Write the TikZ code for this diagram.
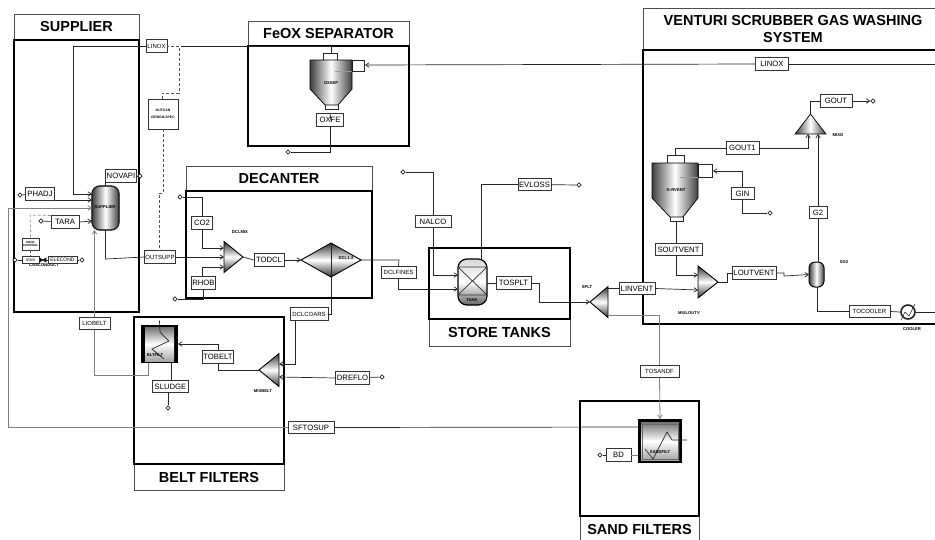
\documentclass[tikz,border=0pt]{standalone}
\usepackage{fontspec}
\setmainfont{Liberation Sans}
\usetikzlibrary{arrows.meta, positioning, shapes.geometric}

\begin{document}
\begin{tikzpicture}[x=1pt, y=-1pt, >={Straight Barb[length=3.5pt,width=4.5pt]}, line width=0.7pt, black!85,
    frame/.style={draw=black, line width=2.2pt},
    titlebox/.style={draw=black!70, line width=0.8pt, fill=white, text=black, font=\bfseries\fontsize{14.5}{17}\selectfont, align=center, inner sep=0pt},
    lbl/.style={draw=black!80, line width=0.8pt, fill=white, text=black, inner xsep=1pt, inner ysep=0pt, minimum height=12.5pt, font=\fontsize{7.7}{8}\selectfont},
    lblsm/.style={lbl, font=\fontsize{6}{7}\selectfont},
    term/.style={draw, fill=white, diamond, inner sep=0pt, minimum size=4.5pt},
    tag/.style={font=\bfseries\fontsize{4.2}{5}\selectfont, inner sep=0pt, text=black},
    unit/.style={inner sep=0pt, outer sep=0pt},
    paleflow/.style={draw=black!50, line width=0.8pt},
    signal/.style={draw=black!65, densely dashed, line width=0.5pt},
    metal/.style={draw=black, line width=0.7pt, left color=black!75, right color=black!75, middle color=white},
    metalv/.style={draw=black, line width=0.9pt, top color=black!80, bottom color=black!80, middle color=white},
    tankfill/.style={draw=black, line width=1.2pt, top color=black!15, bottom color=black!60, middle color=white},
    filterfill/.style={top color=black!55, bottom color=black!35, middle color=white}]
  \useasboundingbox (0,0) rectangle (935,539);

  % ---- section frames ----
  \node[titlebox, minimum width=125, minimum height=26] (supt) at (76.5,27) {SUPPLIER};
  \node[frame, minimum width=125, minimum height=272] (supf) at (76.5,176) {};
  \node[titlebox, minimum width=161, minimum height=25] (oxt) at (328.5,33.5) {FeOX SEPARATOR};
  \node[frame, minimum width=161, minimum height=100] (oxf) at (328.5,96) {};
  \node[titlebox, minimum width=186, minimum height=25] (dect) at (279,178.5) {DECANTER};
  \node[frame, minimum width=186, minimum height=107] (decf) at (279,244.5) {};
  \node[titlebox, minimum width=141, minimum height=27] (stot) at (499.5,332.5) {STORE TANKS};
  \node[frame, minimum width=141, minimum height=71] (stof) at (499.5,283.5) {};
  \node[titlebox, minimum width=150, minimum height=26] (belt) at (209,477) {BELT FILTERS};
  \node[frame, minimum width=150, minimum height=147] (belf) at (209,390.5) {};
  \node[titlebox, minimum width=119, minimum height=32] (sant) at (639.5,532) {};
  \node[inner sep=0pt, font=\bfseries\fontsize{14.5}{17}\selectfont, text=black] (santext) at (639.5,529) {SAND FILTERS};
  \node[frame, minimum width=119, minimum height=115] (sanf) at (639.5,458.5) {};
  \node[titlebox, minimum width=300, minimum height=42] (vent) at (793,29) {VENTURI SCRUBBER GAS WASHING\\SYSTEM};
  \node[frame, minimum width=300, minimum height=274] (venf) at (793,187) {};

  % ---- unit blocks (outline only, shapes drawn below) ----
  \node[unit, minimum width=27, minimum height=44] (supplier) at (105.5,208) {};
  \node[unit, minimum width=42, minimum height=68] (oxsep) at (331,87) {};
  \node[unit, minimum width=19, minimum height=31] (dclmix) at (233.5,257) {};
  \node[unit, minimum width=60, minimum height=34] (dcl) at (331,260) {};
  \node[unit, minimum width=29, minimum height=46] (tank) at (472.5,282) {};
  \node[unit, minimum width=18, minimum height=31] (splt) at (599,302) {};
  \node[unit, minimum width=37, minimum height=38] (bltfilt) at (159.5,344) {};
  \node[unit, minimum width=20, minimum height=33] (mixbelt) at (269,370) {};
  \node[unit, minimum width=44, minimum height=44] (sandfilt) at (660,441) {};
  \node[unit, minimum width=46, minimum height=58] (grvent) at (675,192) {};
  \node[unit, minimum width=31, minimum height=20] (mixg) at (810.5,124) {};
  \node[unit, minimum width=20, minimum height=32] (mixoutv) at (708,282) {};
  \node[unit, minimum width=15, minimum height=25] (sg2) at (816.5,274.5) {};
  \node[unit, circle, minimum size=16] (cooler) at (908,312) {};

  % ---- unit shapes ----
  \shade[metal, rounded corners=8pt] (supplier.north west) rectangle (supplier.south east);
  \draw[line width=1.4pt, rounded corners=8pt] (supplier.north west) rectangle (supplier.south east);
  \shadedraw[metalv] (dclmix.north west) -- (dclmix.east) -- (dclmix.south west) -- cycle;
  \shadedraw[metalv] (dcl.west) -- (dcl.north) -- (dcl.east) -- (dcl.south) -- cycle;
  \draw (dcl.north) -- (dcl.south);
  \shadedraw[metalv] (splt.north east) -- (splt.west) -- (splt.south east) -- cycle;
  \shadedraw[metalv] (mixbelt.north east) -- (mixbelt.west) -- (mixbelt.south east) -- cycle;
  \shadedraw[metalv] (mixoutv.north west) -- (mixoutv.east) -- (mixoutv.south west) -- cycle;
  \shadedraw[metal] (mixg.north) -- (mixg.south east) -- (mixg.south west) -- cycle;
  % ---- cyclones ----
  \draw[fill=white, line width=1pt] (323,53) rectangle (337,60) (352,60) rectangle (364,71);
  \shadedraw[metal] (310,60) -- (352,60) -- (352,89) -- (338,105) -- (325,105) -- (310,89) -- cycle;
  \draw[line width=1pt] (325,105) -- (325,109) -- (338,109) -- (338,105);
  \draw[line width=0.5pt, black!40] (335,71) -- (352,71);
  \draw[fill=white, line width=1pt] (667,155) rectangle (684,163) (698,164) rectangle (712,177);
  \shadedraw[metal] (652,163) -- (698,163) -- (698,198) -- (683,217) -- (670,217) -- (652,198) -- cycle;
  \draw[line width=1pt] (670,217) -- (670,221) -- (683,221) -- (683,217);
  \draw[line width=0.5pt, black!40] (680,177) -- (698,177);
  % ---- tank, flash drum, cooler ----
  \shadedraw[tankfill, rounded corners=9pt] (tank.north west) rectangle (tank.south east);
  \draw[black!80] (458,267) -- (487,295) (487,267) -- (458,295) (458,267) -- (487,267) (458,295) -- (487,295);
  \shadedraw[metal, rounded corners=6pt, line width=1pt] (sg2.north west) rectangle (sg2.south east);
  \draw[line width=1.6pt, fill=white] (cooler) circle (7);
  \draw[line width=0.5pt] (901,320) -- (905,312) -- (909,316) -- (915,304);
  % ---- filters ----
  \fill[black] (bltfilt.north west) rectangle (bltfilt.south east);
  \shade[filterfill] (145,327) rectangle (174,361);
  \draw[line width=0.7pt] (160,332) -- (169,341) -- (152,349) -- (164,359);
  \fill[black] (sandfilt.north west) rectangle (sandfilt.south east);
  \shade[filterfill] (641,422) rectangle (679,460);
  \draw[black!60] (642,424) rectangle (678,459);
  \draw[line width=0.7pt] (645,449) -- (653,459) -- (667,432) -- (672,440) -- (687,440);

  % ---- equipment tags ----
  \node[tag] (supplierlab) at (105,207) {SUPPLIER};
  \node[tag] (oxseplab) at (331,83) {OXSEP};
  \node[tag] (dclmixlab) at (240,232) {DCLMIX};
  \node[tag] (dcllab) at (346,258) {DCL1-2};
  \node[tag] (tanklab) at (472,300) {TANK};
  \node[tag] (spltlab) at (587,287) {SPLT};
  \node[tag] (bltfiltlab) at (155,355) {BLTFILT};
  \node[tag] (mixbeltlab) at (263,391) {MIXBELT};
  \node[tag] (sandfiltlab) at (660,452) {SANDFILT};
  \node[tag] (grventlab) at (676,190) {G-RVENT};
  \node[tag] (mixglab) at (838,135) {MIXG};
  \node[tag] (mixoutvlab) at (689,313) {MIXLOUTV};
  \node[tag] (sg2lab) at (844,262) {SG2};
  \node[tag] (coolerlab) at (912,329) {COOLER};
  \node[tag] (casconlab) at (44,265.5) {CASCONDUCT};

  % ---- free stream ends ----
  \node[term] (tphadj) at (20,195) {};
  \node[term] (ttara) at (41,221) {};
  \node[term] (tions) at (15,260) {};
  \node[term] (telec) at (82,260) {};
  \node[term] (tnova) at (140,176) {};
  \node[term] (tco2) at (180,197) {};
  \node[term] (trhob) at (175,299) {};
  \node[term] (toxfe) at (288,152) {};
  \node[term] (tnalco) at (403,172) {};
  \node[term] (tevloss) at (579,185) {};
  \node[term] (tdreflo) at (382,377) {};
  \node[term] (tsludge) at (168,408) {};
  \node[term] (tbd) at (600,455) {};
  \node[term] (tgin) at (770,213) {};
  \node[term] (tgout) at (873,101) {};
  \coordinate (rimlinox) at (935,64);
  \coordinate (rimcool) at (935,312);
  \coordinate (sepin) at (365,65);
  \coordinate (ginin) at (713,171);

  % ---- stream labels ----
  \node[lblsm, minimum width=21] (linoxa) at (156.5,46) {LINOX};
  \node[lbl, minimum width=33] (linoxb) at (772,64) {LINOX};
  \node[lbl, minimum width=30] (novapi) at (121,176) {NOVAPI};
  \node[lbl, minimum width=29] (phadj) at (40,194) {PHADJ};
  \node[lbl, minimum width=28] (tara) at (65,222) {TARA};
  \node[lblsm, minimum width=29] (outsupp) at (160,257) {OUTSUPP};
  \node[lblsm, minimum width=31, minimum height=12] (liobelt) at (94.5,323.5) {LIOBELT};
  \node[lbl, minimum width=21] (co2) at (202,223) {CO2};
  \node[lbl, minimum width=23] (rhob) at (203.5,283) {RHOB};
  \node[lbl, minimum width=30] (todcl) at (269,260) {TODCL};
  \node[lbl, minimum width=27] (oxfe) at (330,120) {OXFE};
  \node[lblsm, minimum width=35] (dclfines) at (398.5,272.5) {DCLFINES};
  \node[lblsm, minimum width=38] (dclcoars) at (309,314) {DCLCOARS};
  \node[lbl, minimum width=36] (nalco) at (433,221.5) {NALCO};
  \node[lbl, minimum width=33] (evloss) at (534.5,184.5) {EVLOSS};
  \node[lbl, minimum width=35] (tosplt) at (513.5,283) {TOSPLT};
  \node[lbl, minimum width=36] (linvent) at (637,288.5) {LINVENT};
  \node[lblsm, minimum width=39] (tosandf) at (659.5,371.5) {TOSANDF};
  \node[lbl, minimum width=28] (tobelt) at (218,357) {TOBELT};
  \node[lbl, minimum width=36] (sludge) at (170.5,386.5) {SLUDGE};
  \node[lbl, minimum width=33] (dreflo) at (352.5,378) {DREFLO};
  \node[lbl, minimum width=46] (sftosup) at (311,427.5) {SFTOSUP};
  \node[lbl, minimum width=25] (bd) at (618.5,455) {BD};
  \node[lbl, minimum width=33] (gout1) at (742.5,148) {GOUT1};
  \node[lbl, minimum width=32] (gout) at (836,101) {GOUT};
  \node[lbl, minimum width=23] (gin) at (742.5,193.5) {GIN};
  \node[lbl, minimum width=18] (gtwo) at (818,212.5) {G2};
  \node[lbl, minimum width=47] (soutvent) at (678.5,249.5) {SOUTVENT};
  \node[lbl, minimum width=44] (loutvent) at (754,273) {LOUTVENT};
  \node[lblsm, minimum width=41] (tocooler) at (869.5,311.5) {TOCOOLER};
  % ---- small control blocks ----
  \node[lbl, minimum width=13, minimum height=12, font=\bfseries\fontsize{3}{3.6}\selectfont, align=center] (conc) at (30.5,244) {CONC\\CONTROL};
  \node[lbl, minimum width=17, minimum height=7.5, font=\fontsize{3.8}{4}\selectfont] (ions) at (30.5,260) {IONS};
  \node[lbl, minimum width=29, minimum height=7.5, font=\fontsize{5}{5}\selectfont] (elecond) at (62.5,260) {ELECOND};
  \node[lbl, minimum width=30, minimum height=30, font=\bfseries\fontsize{3.4}{6.5}\selectfont, align=center] (outcan) at (163,114) {OUTCAN\\DESIGN-SPEC};

  % ---- streams: supplier ----
  \draw[->] (linoxa.west) -| (73,194) -- ([yshift=14pt]supplier.west);
  \draw (linoxa.east) ++(14,0) -- (oxsep.north |- linoxa.east) -- (331,53);
  \draw[->] (phadj.east) ++(0,6) -- ([yshift=8pt]supplier.west);
  \draw[->] (tara.east) -- ([yshift=-13pt]supplier.west);
  \draw (ttara) -- (tara);
  \draw (tphadj) -- (phadj);
  \draw (supplier.north) -- (supplier.north |- novapi.south);
  \draw (novapi) -- (tnova);
  \draw (supplier.south) -- ++(0,29) -- (outsupp.west);
  \draw[paleflow, ->] (sftosup.west) -- (8,427.5) -- (8,208) -- (supplier.west);
  \draw[paleflow] ([xshift=7pt]bltfilt.south west) |- (94.5,375) -- (liobelt.south);
  \draw[paleflow, ->] (liobelt.north) -- (94.5,230);
  \draw[signal] (tara.north west) -- (30,215) -- (conc.north);
  \draw[signal] (conc.south) -- (ions.north);
  \draw (tions) -- (ions);
  \draw (elecond) -- (telec);
  \draw (ions) -- (elecond);
  \draw[fill=black] (39.5,258) -- (46,262) -- (46,258) -- (39.5,262) -- cycle;
  \draw[signal] ([xshift=-1pt]outcan.north) |- (179,93) |- (linoxa.east);
  \draw[signal] (outcan.south) -- (163,193) -- (159,193) -- (159,251);

  % ---- streams: decanter ----
  \draw (tco2) -| (co2.north);
  \draw[->] (co2.south) |- ([yshift=9pt]dclmix.west);
  \draw[->] (outsupp.east) -- (dclmix.west);
  \draw[->] ([xshift=-1pt]rhob.north) |- ([yshift=-10pt]dclmix.west);
  \draw (trhob) -| (rhob.south);
  \draw (dclmix.east) -- (todcl.west);
  \draw[->] (todcl.east) -- (dcl.west);
  \draw (dcl.east) -- (399,260) -- (dclfines.north);
  \draw[->] (dclfines.south) |- ([yshift=-7pt]tank.west);
  \draw (dcl.south) -- (331,314) -- (dclcoars.east);
  \draw[->] ([xshift=-14pt]dclcoars.south) |- ([yshift=6pt]mixbelt.east);
  \draw[->] (dreflo.west) -- ([yshift=-7pt]mixbelt.east);
  \draw (dreflo) -- (tdreflo);

  % ---- streams: belt filters ----
  \draw (mixbelt.west) -| (tobelt.south);
  \draw[->] (tobelt.north) |- (bltfilt.east);
  \draw (dclcoars.south -| bltfilt.north) -- (160,332);
  \draw ([xshift=11.5pt]bltfilt.south) -- ([xshift=0.5pt]sludge.north);
  \draw[line width=0.9pt] (sludge.south -| tsludge) -- (tsludge);
  \draw (sftosup.east) -- ([yshift=14pt]sandfilt.west);

  % ---- streams: separator ----
  \draw (rimlinox) -- (linoxb.east);
  \draw[->] (linoxb.west) -- (sepin);
  \draw (oxsep.south) -- (oxfe.north);
  \draw (oxfe.south) |- (toxfe);

  % ---- streams: store tanks ----
  \draw (tnalco) -| (nalco.north);
  \draw[->] (nalco.south) |- ([yshift=7pt]tank.west);
  \draw ([xshift=8.5pt]tank.north) |- (evloss.west);
  \draw (evloss) -- (tevloss);
  \draw (tank.east |- tosplt.west) -- (tosplt.west);
  \draw[->] (tosplt.east) -| (539,302) -- (splt.west);
  \draw ([xshift=-1pt, yshift=-2pt]splt.north east) -- (linvent.west);
  \draw[paleflow] ([yshift=2pt]splt.south east) -| (tosandf.north);
  \draw[paleflow, ->] (tosandf.south) -- (sandfilt.north);
  \draw (tbd) -- (bd);
  \draw[paleflow] (bd.east) -- (sandfilt.west |- bd.east);

  % ---- streams: venturi ----
  \draw (675,155) |- (gout1.west);
  \draw[->] (gout1.east) -| (808,134);
  \draw[->] (gtwo.north) -- (818,134);
  \draw (sg2.north -| gtwo) -- (gtwo.south);
  \draw (mixg.north) |- (gout.west);
  \draw[->] (gout.east) -- (tgout);
  \draw[->] (gin.north) |- (ginin);
  \draw (gin.south) |- (tgin);
  \draw (676,221) -- (676,243);
  \draw[->] (676,255) |- ([yshift=7pt]mixoutv.west);
  \draw[->] (linvent.east) -- ([yshift=-8pt]mixoutv.west);
  \draw (mixoutv.east) -- (727,282) |- (loutvent.west);
  \draw[->] (loutvent.east) -- (784,273) -- (784,276) -- (sg2.west);
  \draw (817,287) |- (tocooler.west);
  \draw (tocooler.east) -- (cooler.west);
  \draw (cooler.east) -- (rimcool);
\end{tikzpicture}
\end{document}
